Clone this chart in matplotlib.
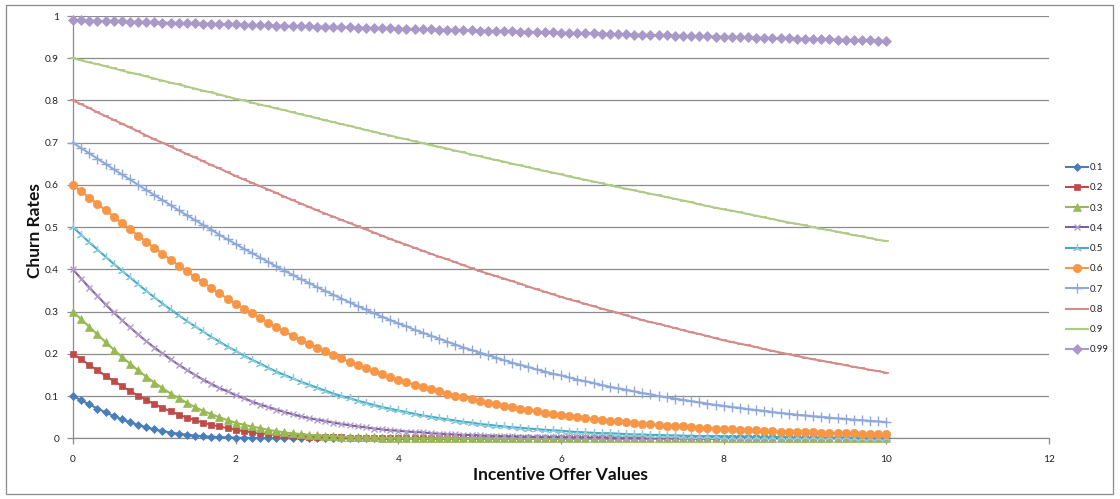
import numpy as np
import matplotlib
matplotlib.use("Agg")
import matplotlib.pyplot as plt
from matplotlib.patches import Rectangle
from matplotlib.ticker import FixedLocator, FuncFormatter

plt.rcParams['font.family'] = ['Lato', 'DejaVu Sans']

# Incentive offer values: 0 to 10 in steps of 0.1
offer_values = np.round(np.arange(101) * 0.1, 1)

series_labels = ['0.1', '0.2', '0.3', '0.4', '0.5', '0.6', '0.7', '0.8', '0.9', '0.99']

churn_01 = [
    0.1000, 0.0900, 0.0801, 0.0705, 0.0614, 0.0529, 0.0450, 0.0379, 0.0316, 0.0260, 0.0212,
    0.0171, 0.0136, 0.0108, 0.0084, 0.0065, 0.0049, 0.0037, 0.0028, 0.0021, 0.0015,
    0.0011, 0.0008, 0.0005, 0.0004, 0.0003, 0.0002, 0.0001, 0.0001, 0.0001, 0.0,
    0, 0, 0, 0, 0, 0, 0, 0, 0, 0,
    0, 0, 0, 0, 0, 0, 0, 0, 0, 0,
    0, 0, 0, 0, 0, 0, 0, 0, 0, 0,
    0, 0, 0, 0, 0, 0, 0, 0, 0, 0,
    0, 0, 0, 0, 0, 0, 0, 0, 0, 0,
    0, 0, 0, 0, 0, 0, 0, 0, 0, 0,
    0, 0, 0, 0, 0, 0, 0, 0, 0, 0,
]
churn_02 = [
    0.200, 0.187, 0.174, 0.161, 0.148, 0.136, 0.124, 0.112, 0.101, 0.091, 0.081,
    0.072, 0.064, 0.056, 0.049, 0.043, 0.037, 0.032, 0.028, 0.024, 0.020,
    0.017, 0.014, 0.012, 0.010, 0.008, 0.007, 0.006, 0.005, 0.004, 0.003,
    0.002, 0.002, 0.002, 0.001, 0.001, 0.001, 0.001, 0.000, 0.000, 0.000,
    0, 0, 0, 0, 0, 0, 0, 0, 0, 0,
    0, 0, 0, 0, 0, 0, 0, 0, 0, 0,
    0, 0, 0, 0, 0, 0, 0, 0, 0, 0,
    0, 0, 0, 0, 0, 0, 0, 0, 0, 0,
    0, 0, 0, 0, 0, 0, 0, 0, 0, 0,
    0, 0, 0, 0, 0, 0, 0, 0, 0, 0,
]
churn_03 = [
    0.300, 0.282, 0.264, 0.246, 0.228, 0.210, 0.193, 0.177, 0.161, 0.146, 0.132,
    0.119, 0.106, 0.095, 0.084, 0.074, 0.065, 0.057, 0.050, 0.043, 0.037,
    0.032, 0.028, 0.024, 0.020, 0.017, 0.014, 0.012, 0.010, 0.008, 0.007,
    0.006, 0.005, 0.004, 0.003, 0.002, 0.002, 0.002, 0.001, 0.001, 0.001,
    0.001, 0, 0, 0, 0, 0, 0, 0, 0, 0,
    0, 0, 0, 0, 0, 0, 0, 0, 0, 0,
    0, 0, 0, 0, 0, 0, 0, 0, 0, 0,
    0, 0, 0, 0, 0, 0, 0, 0, 0, 0,
    0, 0, 0, 0, 0, 0, 0, 0, 0, 0,
    0, 0, 0, 0, 0, 0, 0, 0, 0, 0,
]
churn_04 = [
    0.400, 0.378, 0.357, 0.337, 0.317, 0.298, 0.280, 0.263, 0.246, 0.230, 0.215,
    0.201, 0.187, 0.174, 0.162, 0.150, 0.139, 0.129, 0.119, 0.111, 0.102,
    0.095, 0.087, 0.080, 0.074, 0.068, 0.062, 0.057, 0.052, 0.048, 0.044,
    0.041, 0.037, 0.034, 0.031, 0.028, 0.026, 0.023, 0.021, 0.019, 0.018,
    0.016, 0.015, 0.014, 0.012, 0.011, 0.010, 0.009, 0.008, 0.008, 0.007,
    0.006, 0.006, 0.005, 0.005, 0.004, 0.004, 0.003, 0.003, 0.003, 0.003,
    0.002, 0.002, 0.002, 0.002, 0.002, 0.001, 0.001, 0.001, 0.001, 0.001,
    0.001, 0.001, 0.001, 0.001, 0.001, 0.001, 0.000, 0.000, 0.000, 0.000,
    0, 0, 0, 0, 0, 0, 0, 0, 0, 0,
    0, 0, 0, 0, 0, 0, 0, 0, 0, 0,
]
churn_05 = [
    0.500, 0.482, 0.464, 0.447, 0.430, 0.413, 0.397, 0.381, 0.365, 0.349, 0.334,
    0.319, 0.305, 0.291, 0.278, 0.265, 0.253, 0.240, 0.229, 0.217, 0.207,
    0.196, 0.186, 0.177, 0.167, 0.158, 0.150, 0.142, 0.134, 0.127, 0.120,
    0.113, 0.106, 0.100, 0.095, 0.089, 0.084, 0.079, 0.074, 0.070, 0.066,
    0.062, 0.058, 0.054, 0.051, 0.048, 0.045, 0.042, 0.039, 0.037, 0.034,
    0.032, 0.030, 0.028, 0.026, 0.025, 0.023, 0.022, 0.020, 0.019, 0.018,
    0.016, 0.015, 0.014, 0.013, 0.012, 0.012, 0.011, 0.010, 0.009, 0.009,
    0.008, 0.008, 0.007, 0.007, 0.006, 0.006, 0.005, 0.005, 0.005, 0.004,
    0.004, 0.004, 0.004, 0.003, 0.003, 0.003, 0.003, 0.003, 0.002, 0.002,
    0.002, 0.002, 0.002, 0.002, 0.002, 0.001, 0.001, 0.001, 0.001, 0.001,
]
churn_06 = [
    0.600, 0.585, 0.570, 0.555, 0.540, 0.525, 0.510, 0.495, 0.480, 0.466, 0.451,
    0.437, 0.423, 0.409, 0.395, 0.382, 0.369, 0.356, 0.343, 0.331, 0.319,
    0.307, 0.296, 0.285, 0.274, 0.263, 0.253, 0.243, 0.233, 0.224, 0.215,
    0.206, 0.197, 0.189, 0.181, 0.174, 0.166, 0.159, 0.152, 0.146, 0.139,
    0.133, 0.127, 0.122, 0.116, 0.111, 0.106, 0.101, 0.097, 0.093, 0.088,
    0.084, 0.081, 0.077, 0.073, 0.070, 0.067, 0.064, 0.061, 0.058, 0.055,
    0.053, 0.051, 0.048, 0.046, 0.044, 0.042, 0.040, 0.038, 0.036, 0.035,
    0.033, 0.032, 0.030, 0.029, 0.028, 0.027, 0.025, 0.024, 0.023, 0.022,
    0.021, 0.020, 0.020, 0.019, 0.018, 0.017, 0.016, 0.016, 0.015, 0.015,
    0.014, 0.013, 0.013, 0.012, 0.012, 0.012, 0.011, 0.011, 0.010, 0.010,
]
churn_07 = [
    0.700, 0.687, 0.675, 0.662, 0.650, 0.637, 0.625, 0.613, 0.600, 0.588, 0.576,
    0.564, 0.552, 0.540, 0.528, 0.517, 0.505, 0.494, 0.482, 0.471, 0.460,
    0.449, 0.439, 0.428, 0.418, 0.407, 0.397, 0.387, 0.377, 0.368, 0.358,
    0.349, 0.340, 0.331, 0.322, 0.313, 0.305, 0.296, 0.288, 0.280, 0.272,
    0.265, 0.257, 0.250, 0.243, 0.236, 0.229, 0.222, 0.215, 0.209, 0.203,
    0.197, 0.191, 0.185, 0.179, 0.174, 0.169, 0.163, 0.158, 0.153, 0.149,
    0.144, 0.139, 0.135, 0.131, 0.126, 0.122, 0.118, 0.115, 0.111, 0.107,
    0.104, 0.100, 0.097, 0.094, 0.091, 0.088, 0.085, 0.082, 0.079, 0.077,
    0.074, 0.072, 0.069, 0.067, 0.065, 0.062, 0.060, 0.058, 0.056, 0.054,
    0.052, 0.051, 0.049, 0.047, 0.046, 0.044, 0.043, 0.041, 0.040, 0.038,
]
churn_08 = [
    0.800, 0.791, 0.782, 0.772, 0.763, 0.754, 0.745, 0.736, 0.727, 0.717, 0.708,
    0.700, 0.691, 0.682, 0.673, 0.665, 0.656, 0.647, 0.639, 0.630, 0.621,
    0.613, 0.605, 0.597, 0.589, 0.581, 0.572, 0.564, 0.556, 0.548, 0.540,
    0.532, 0.525, 0.517, 0.510, 0.502, 0.495, 0.487, 0.480, 0.472, 0.465,
    0.458, 0.451, 0.444, 0.437, 0.430, 0.424, 0.417, 0.410, 0.403, 0.396,
    0.390, 0.384, 0.378, 0.372, 0.366, 0.359, 0.353, 0.347, 0.341, 0.335,
    0.329, 0.324, 0.318, 0.313, 0.307, 0.302, 0.297, 0.291, 0.286, 0.280,
    0.275, 0.271, 0.266, 0.261, 0.256, 0.251, 0.247, 0.242, 0.237, 0.232,
    0.228, 0.224, 0.220, 0.216, 0.211, 0.207, 0.203, 0.199, 0.195, 0.191,
    0.187, 0.184, 0.180, 0.177, 0.173, 0.169, 0.166, 0.162, 0.159, 0.155,
]
churn_09 = [
    0.900, 0.895, 0.890, 0.886, 0.881, 0.876, 0.871, 0.866, 0.862, 0.857, 0.852,
    0.847, 0.842, 0.838, 0.833, 0.828, 0.823, 0.819, 0.814, 0.809, 0.804,
    0.800, 0.795, 0.790, 0.786, 0.781, 0.777, 0.772, 0.767, 0.763, 0.758,
    0.753, 0.749, 0.744, 0.740, 0.735, 0.730, 0.726, 0.721, 0.717, 0.712,
    0.708, 0.703, 0.699, 0.694, 0.690, 0.686, 0.681, 0.677, 0.672, 0.668,
    0.663, 0.659, 0.655, 0.650, 0.646, 0.642, 0.637, 0.633, 0.629, 0.625,
    0.620, 0.616, 0.612, 0.608, 0.604, 0.599, 0.595, 0.591, 0.587, 0.583,
    0.579, 0.575, 0.571, 0.567, 0.563, 0.559, 0.554, 0.550, 0.546, 0.542,
    0.539, 0.535, 0.531, 0.527, 0.523, 0.519, 0.515, 0.511, 0.508, 0.504,
    0.500, 0.496, 0.493, 0.489, 0.485, 0.481, 0.478, 0.474, 0.470, 0.467,
]
churn_099 = [
    0.9900, 0.9895, 0.9890, 0.9885, 0.9880, 0.9875, 0.9870, 0.9865, 0.9860, 0.9855, 0.9850,
    0.9845, 0.9840, 0.9835, 0.9830, 0.9825, 0.9820, 0.9815, 0.9810, 0.9805, 0.9800,
    0.9795, 0.9790, 0.9785, 0.9780, 0.9775, 0.9770, 0.9766, 0.9761, 0.9756, 0.9751,
    0.9746, 0.9741, 0.9736, 0.9731, 0.9726, 0.9722, 0.9717, 0.9712, 0.9707, 0.9702,
    0.9697, 0.9692, 0.9687, 0.9682, 0.9677, 0.9672, 0.9668, 0.9663, 0.9658, 0.9653,
    0.9648, 0.9643, 0.9638, 0.9634, 0.9629, 0.9624, 0.9619, 0.9614, 0.9610, 0.9605,
    0.9600, 0.9595, 0.9590, 0.9586, 0.9581, 0.9576, 0.9571, 0.9566, 0.9561, 0.9556,
    0.9551, 0.9547, 0.9542, 0.9537, 0.9532, 0.9527, 0.9523, 0.9518, 0.9513, 0.9508,
    0.9503, 0.9498, 0.9494, 0.9489, 0.9484, 0.9479, 0.9474, 0.9470, 0.9465, 0.9460,
    0.9455, 0.9450, 0.9446, 0.9441, 0.9436, 0.9431, 0.9426, 0.9422, 0.9417, 0.9412,
]

churn_series = [churn_01, churn_02, churn_03, churn_04, churn_05,
                churn_06, churn_07, churn_08, churn_09, churn_099]

y_tick_values = [0, 0.1, 0.2, 0.3, 0.4, 0.5, 0.6, 0.7, 0.8, 0.9, 1]
x_tick_values = [0, 2, 4, 6, 8, 10, 12]

# line colour, marker, marker size, marker colour, marker edge width
styles = [
    ('#4A7EBB', 'D', 4.0, '#4A7EBB', 0.5),
    ('#BE4B48', 's', 4.8, '#BE4B48', 0.5),
    ('#98B954', '^', 5.6, '#98B954', 0.5),
    ('#7D60A0', 'x', 5.0, '#B09CCB', 1.0),
    ('#46AAC5', (3, 2, 0), 6.5, '#8CCCDD', 0.9),
    ('#F79646', 'o', 6.0, '#F79646', 0.5),
    ('#8EA8D8', '+', 6.5, '#8EA8D8', 1.0),
    ('#D48C8A', '_', 5.0, '#D48C8A', 1.2),
    ('#B0CB87', '_', 5.0, '#B0CB87', 1.2),
    ('#A999C9', 'D', 4.6, '#A999C9', 0.5),
]

W, H = 1120, 499
fig = plt.figure(figsize=(W / 100, H / 100), dpi=100)
fig.patch.set_facecolor('white')

# chart frame
fig.add_artist(Rectangle((6 / W, 5 / H), 1107 / W, 489 / H, transform=fig.transFigure,
                         facecolor='none', edgecolor='#8a8a8a', lw=0.9))

ax_left, ax_right = 73 / W, 1049 / W
ax_top, ax_bottom = 1 - 16 / H, 1 - 438.3 / H
ax = fig.add_axes([ax_left, ax_bottom, ax_right - ax_left, ax_top - ax_bottom])

handles = []
for label, values, (lc, mk, ms, mc, mew) in zip(series_labels, churn_series, styles):
    h, = ax.plot(offer_values, values, color=lc, lw=1.5, marker=mk, markersize=ms,
                 markerfacecolor=mc, markeredgecolor=mc, markeredgewidth=mew,
                 label=label, clip_on=False, zorder=3)
    handles.append(h)

ax.set_xlim(0, 12)
ax.set_ylim(0, 1)
ax.xaxis.set_major_locator(FixedLocator(x_tick_values))
ax.yaxis.set_major_locator(FixedLocator(y_tick_values))
ax.yaxis.set_major_formatter(FuncFormatter(lambda v, p: f"{v:g}"))
ax.xaxis.set_major_formatter(FuncFormatter(lambda v, p: f"{v:g}"))

ax.yaxis.grid(True, color='#8c8c8c', lw=0.9)
ax.set_axisbelow(True)
for side in ('top', 'right'):
    ax.spines[side].set_visible(False)
for side in ('left', 'bottom'):
    ax.spines[side].set_color('#8c8c8c')
    ax.spines[side].set_linewidth(0.9)

ax.tick_params(axis='both', which='major', labelsize=7.3, colors='#8c8c8c',
               labelcolor='#222222', length=4, width=0.9, direction='out')
ax.tick_params(axis='y', pad=6)
ax.tick_params(axis='x', pad=8)

fig.text(560 / W, 1 - 475.5 / H, 'Incentive Offer Values', ha='center', va='center',
         fontsize=12.5, fontweight='bold', color='#111111')
fig.text(35 / W, 1 - 231 / H, 'Churn Rates', ha='center', va='center', rotation=90,
         fontsize=12.5, fontweight='bold', color='#111111')

leg = ax.legend(handles=handles, loc='upper left', bbox_to_anchor=(1066 / W, 1 - 163 / H),
                bbox_transform=fig.transFigure, frameon=False, fontsize=7,
                handlelength=2.3, handletextpad=0.15, labelspacing=1.16,
                borderpad=0, borderaxespad=0, numpoints=1)
for t in leg.get_texts():
    t.set_color('#222222')

fig.savefig('out.png', dpi=100, facecolor='white')
